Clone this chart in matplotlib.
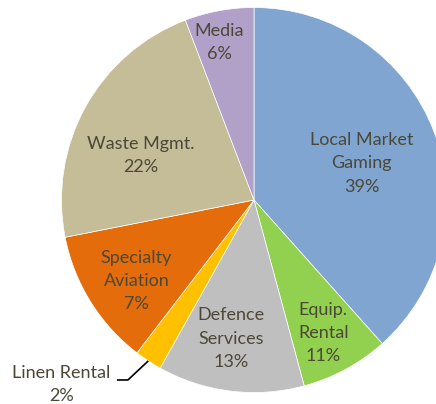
import numpy as np
import matplotlib
matplotlib.use('Agg')
import matplotlib.pyplot as plt

# slice sizes (clockwise from 12 o'clock)
segments = ['Local Market\nGaming', 'Equip.\nRental', 'Defence\nServices', 'Linen Rental',
            'Specialty\nAviation', 'Waste Mgmt.', 'Media']
shares = [38.4, 7.4, 12.3, 2.3, 11.5, 22.3, 5.8]
# percentages as printed on the chart
printed_pct = [39, 11, 13, 2, 7, 22, 6]

COLORS = ['#7FA5D0', '#92D050', '#BFBFBF', '#FFC000', '#E46C0A', '#C4BD97', '#B1A0C7']
TEXT = '#4B4838'

W, H = 436, 404
CX, CY, R = 254, 200, 192.5

fig = plt.figure(figsize=(W / 100, H / 100), dpi=100)
ax = fig.add_axes([0, 0, 1, 1])
ax.set_facecolor('white')

wedges, _ = ax.pie(shares, colors=COLORS, startangle=90, counterclock=False,
                   radius=1, wedgeprops=dict(edgecolor='white', linewidth=0.5))

ax.set_xlim(-CX / R, (W - CX) / R)
ax.set_ylim(-(H - CY) / R, CY / R)
ax.set_aspect('equal')
ax.axis('off')

# label anchors (axis units, pie radius = 1)
label_pos = [(0.56, 0.19), (0.36, -0.69), (-0.12, -0.72), (-1.0, -0.96),
             (-0.61, -0.42), (-0.59, 0.23), (-0.18, 0.82)]

for name, pct, (lx, ly) in zip(segments, printed_pct, label_pos):
    ax.text(lx, ly, f'{name}\n{pct}%', ha='center', va='center',
            fontsize=13, fontfamily='Lato', color=TEXT, linespacing=1.55,
            clip_on=False)

# leader line for the small Linen slice
w = wedges[3]
mid = np.deg2rad((w.theta1 + w.theta2) / 2)
ex, ey = np.cos(mid), np.sin(mid)
ax.plot([-0.712, -0.655, ex], [-0.935, -0.935, ey], color='black', lw=1.2,
        solid_capstyle='butt', clip_on=False)

fig.savefig('out.png', dpi=100, facecolor='white')
